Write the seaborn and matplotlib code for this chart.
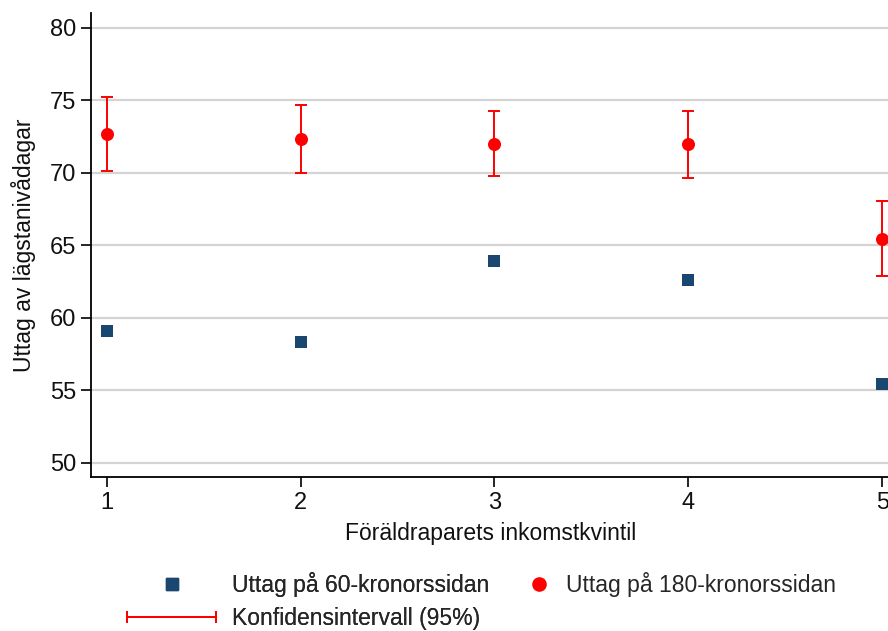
import matplotlib
matplotlib.use("Agg")
import matplotlib.pyplot as plt
import seaborn as sns
import pandas as pd
from matplotlib.lines import Line2D
from matplotlib.legend_handler import HandlerLine2D

# Data
quintiles = [1, 2, 3, 4, 5]
uttag_60 = [59.1, 58.3, 63.9, 62.6, 55.45]
uttag_180 = [72.7, 72.35, 72.0, 71.95, 65.45]
ci_low = [70.15, 69.95, 69.75, 69.65, 62.85]
ci_high = [75.2, 74.7, 74.25, 74.25, 68.05]
yticks = [50, 55, 60, 65, 70, 75, 80]

xlabel = "Föräldraparets inkomstkvintil"
ylabel = "Uttag av lägstanivådagar"
lab60 = "Uttag på 60-kronorssidan"
lab180 = "Uttag på 180-kronorssidan"
labci = "Konfidensintervall (95%)"

sns.set_theme(style="white")
plt.rcParams['font.family'] = ['Liberation Sans', 'DejaVu Sans']

blue = "#1a476f"
red = "#ff0000"
fs_tick = 17
fs_lab = 16.5

df = pd.DataFrame({"q": quintiles, "u60": uttag_60, "u180": uttag_180,
                   "lo": ci_low, "hi": ci_high})

fig = plt.figure(figsize=(8.88, 6.31), dpi=100)
ax = fig.add_axes([0.1025, 0.244, 0.9, 0.735])

ax.set_axisbelow(True)
ax.yaxis.grid(True, color="#d4d4d4", linewidth=1.6)
ax.xaxis.grid(False)

ax.errorbar(df["q"], df["u180"],
            yerr=[df["u180"] - df["lo"], df["hi"] - df["u180"]],
            fmt="none", ecolor=red, elinewidth=1.4, capsize=4.3, capthick=1.4, zorder=2)
sns.scatterplot(data=df, x="q", y="u60", marker="s", s=85, color=blue,
                edgecolor=blue, linewidth=0, ax=ax, zorder=3, clip_on=False)
sns.scatterplot(data=df, x="q", y="u180", marker="o", s=88, color=red,
                edgecolor=red, linewidth=0, ax=ax, zorder=3, clip_on=False)

ax.set_xlim(0.92, 5.04)
ax.set_ylim(49, 81)
ax.set_xticks(quintiles)
ax.set_yticks(yticks)
ax.tick_params(axis="both", which="both", length=7.5, width=1.2, color="black",
               labelsize=fs_tick, labelcolor="#111111", direction="out",
               bottom=True, left=True, pad=3)
for s in ["top", "right"]:
    ax.spines[s].set_visible(False)
for s in ["left", "bottom"]:
    ax.spines[s].set_color("black")
    ax.spines[s].set_linewidth(1.3)

ax.set_xlabel(xlabel, fontsize=fs_lab, labelpad=6, color="#111111")
ax.set_ylabel(ylabel, fontsize=fs_lab, labelpad=10, color="#111111")

# Legend
h60 = Line2D([], [], marker="s", linestyle="none", color=blue, markersize=9.2)
h180 = Line2D([], [], marker="o", linestyle="none", color=red, markersize=9.5)
hci = Line2D([], [], marker="|", linestyle="-", color=red, linewidth=1.4,
             markersize=9, markeredgewidth=1.4)

top = (631 - 572) / 631
leg1 = fig.legend([h60, hci], [lab60, labci], loc="upper left",
                  bbox_to_anchor=(127 / 888, top), frameon=False,
                  fontsize=fs_lab, handlelength=3.9, handletextpad=0.7,
                  labelspacing=0.42, borderaxespad=0, borderpad=0,
                  handler_map={hci: HandlerLine2D(numpoints=2, marker_pad=0),
                               h60: HandlerLine2D(numpoints=1)})
fig.add_artist(leg1)
leg2 = fig.legend([h180], [lab180], loc="upper left",
                  bbox_to_anchor=(528 / 888, top), frameon=False,
                  fontsize=fs_lab, handlelength=1.0, handletextpad=0.67,
                  borderaxespad=0, borderpad=0,
                  handler_map={h180: HandlerLine2D(numpoints=1)})

fig.savefig("out.png", dpi=100)
